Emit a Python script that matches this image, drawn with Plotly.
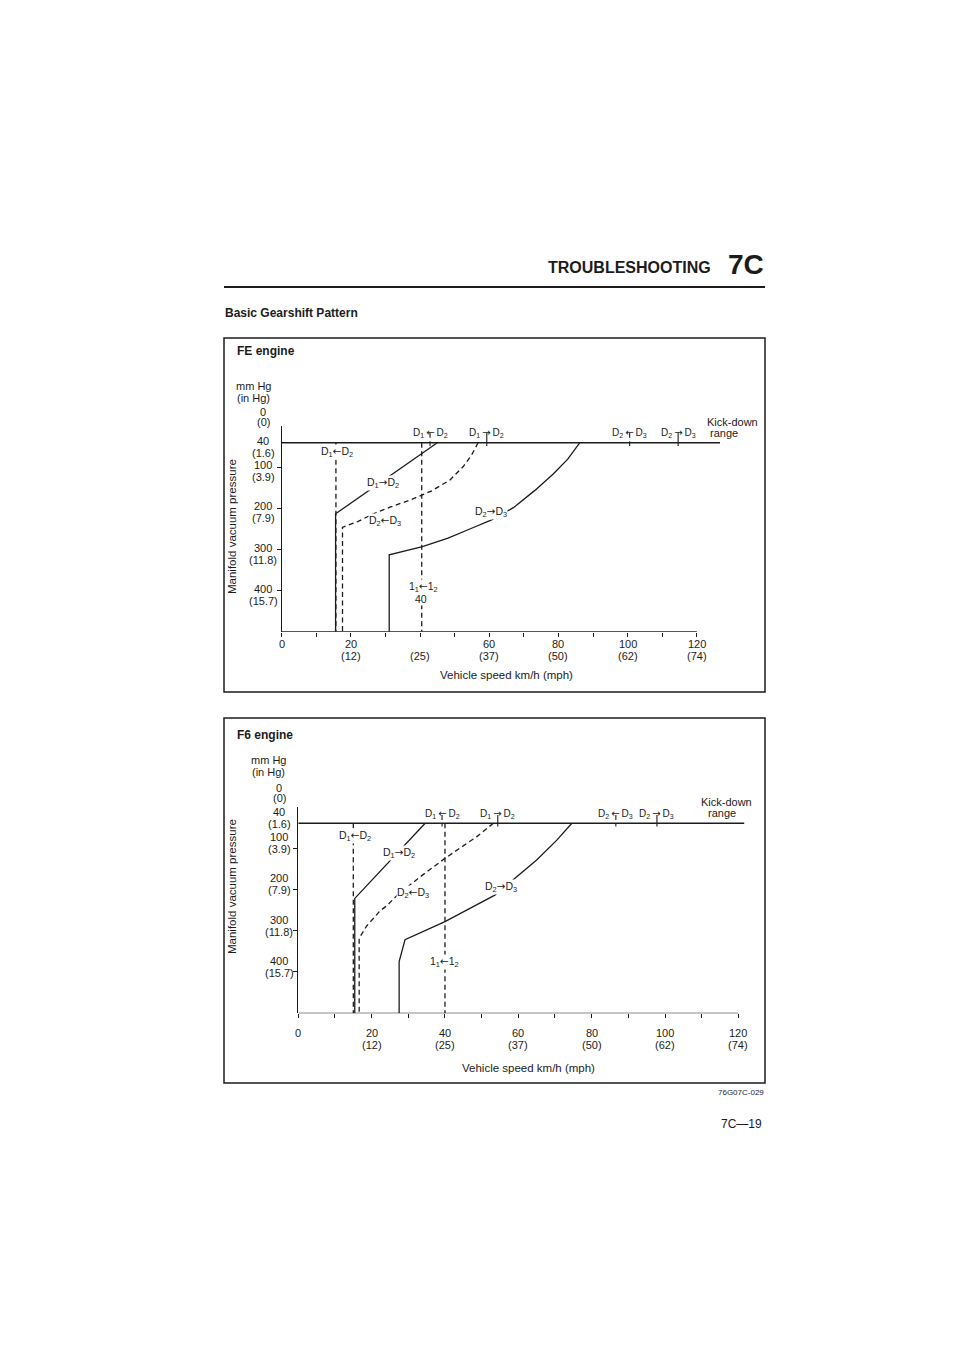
import plotly.graph_objects as go

W, H = 960, 1357
FONT = "Liberation Sans, Arial, Helvetica, sans-serif"
INK = "#1c1c1c"

AL = '<span style="font-family:DejaVu Sans">←</span>'
AR = '<span style="font-family:DejaVu Sans">→</span>'
TS = "\u2009"

# ---------------- data ----------------
x_ticks = [0, 20, 40, 60, 80, 100, 120]
x_ticks_mph = ["", "12", "25", "37", "50", "62", "74"]
y_ticks = [0, 40, 100, 200, 300, 400]
y_ticks_inhg = ["0", "1.6", "3.9", "7.9", "11.8", "15.7"]

kd_labels = ["D<sub>1</sub>" + TS + AL + TS + "D<sub>2</sub>", "D<sub>1</sub>" + TS + AR + TS + "D<sub>2</sub>",
             "D<sub>2</sub>" + TS + AL + TS + "D<sub>3</sub>", "D<sub>2</sub>" + TS + AR + TS + "D<sub>3</sub>"]
kd_is_down = [True, False, True, False]

# FE engine (x: km/h, y: mmHg)
fe_kick_x = [0, 126.7]
fe_kick_y = [40, 40]
fe_d1d2_dn_x = [15.7, 15.7]
fe_d1d2_dn_y = [40, 500]
fe_d1d2_up_x = [45.0, 15.6, 15.6]
fe_d1d2_up_y = [40, 213, 500]
fe_d2d3_dn_x = [56.8, 54.9, 52.5, 48.6, 43.4, 37.6, 31.3, 26.5, 22.0, 17.6, 17.6]
fe_d2d3_dn_y = [40, 70, 98, 131, 157, 178, 197, 213, 232, 246, 500]
fe_d2d3_up_x = [86.2, 82.7, 78.5, 73.2, 67.0, 60.7, 54.4, 48.1, 40.7, 31.1, 31.1]
fe_d2d3_up_y = [40, 80, 116, 156, 198, 228, 250, 272, 293, 313, 500]
fe_i1i2_x = [40.5, 40.5]
fe_i1i2_y = [40, 500]
fe_kd_x = [42.9, 59.3, 100.6, 114.6]

# F6 engine
f6_kick_x = [0, 121.6]
f6_kick_y = [40, 40]
f6_d1d2_dn_x = [15.0, 15.0]
f6_d1d2_dn_y = [40, 500]
f6_d1d2_up_x = [34.6, 15.4, 15.4]
f6_d1d2_up_y = [40, 222, 500]
f6_d2d3_dn_x = [53.2, 48.6, 40.0, 33.2, 27.0, 24.1, 22.3, 18.7, 16.6, 16.6]
f6_d2d3_dn_y = [40, 73, 125, 170, 214, 240, 252, 288, 318, 500]
f6_d2d3_up_x = [74.6, 70.5, 65.0, 58.6, 53.6, 46.8, 40.0, 29.1, 27.5, 27.5]
f6_d2d3_up_y = [40, 81, 129, 177, 214, 246, 278, 322, 375, 500]
f6_i1i2_x = [40.0, 40.0]
f6_i1i2_y = [40, 500]
f6_kd_x = [39.2, 54.4, 86.6, 97.8]

# ---------------- layout helpers ----------------
def P(xpx):
    return xpx / W

def Q(ypx):
    return 1 - ypx / H

DASH = "5px,3.5px"
fig = go.Figure()

def line(xs, ys, xa, ya, dashed=False, width=1.3):
    fig.add_trace(go.Scatter(
        x=xs, y=ys, mode="lines", xaxis=xa, yaxis=ya,
        line=dict(color=INK, width=width, dash=DASH if dashed else "solid"),
        hoverinfo="skip", showlegend=False))

anns = []

def txt(t, x, y, xref="paper", yref="paper", size=11, xanchor="center", yanchor="middle",
        xshift=0, yshift=0, bg=None, angle=0, bold=False):
    if bold:
        t = "<b>" + t + "</b>"
    a = dict(text=t, x=x, y=y, xref=xref, yref=yref, showarrow=False,
             xanchor=xanchor, yanchor=yanchor, xshift=xshift, yshift=yshift,
             textangle=angle, font=dict(family=FONT, size=size, color=INK), borderpad=0)
    if bg:
        a["bgcolor"] = bg
    anns.append(a)

# chart geometry (pixels): left edge, px per km/h, x range max, top (0) and bottom (500)
FE = dict(x0=281.6, k=3.46, xmax=127, y0=426.3, y1=631.7)
F6 = dict(x0=298.3, k=3.667, xmax=122, y0=806.7, y1=1013.3)

def axis_pair(g, anchor_x, anchor_y):
    xdom = [P(g["x0"]), P(g["x0"] + g["k"] * g["xmax"])]
    ydom = [Q(g["y1"]), Q(g["y0"])]
    xa = dict(domain=xdom, range=[0, g["xmax"]], anchor=anchor_y, showgrid=False,
              zeroline=False, showline=False, ticks="outside", ticklen=4,
              tickwidth=1, tickcolor=INK, tickvals=list(range(0, 121, 10)),
              showticklabels=False, fixedrange=True)
    ya = dict(domain=ydom, range=[500, 0], anchor=anchor_x, showgrid=False, zeroline=False,
              showline=True, linecolor=INK, linewidth=1.2, ticks="outside", ticklen=4,
              tickwidth=1, tickcolor=INK, tickvals=y_ticks[2:], showticklabels=False,
              fixedrange=True)
    return xa, ya

xa1, ya1 = axis_pair(FE, "x", "y")
xa2, ya2 = axis_pair(F6, "x2", "y2")

# ---------------- FE traces ----------------
line(fe_kick_x, fe_kick_y, "x", "y")
line(fe_d1d2_dn_x, fe_d1d2_dn_y, "x", "y", dashed=True)
line(fe_d2d3_dn_x, fe_d2d3_dn_y, "x", "y", dashed=True)
line(fe_i1i2_x, fe_i1i2_y, "x", "y", dashed=True)
line(fe_d1d2_up_x, fe_d1d2_up_y, "x", "y")
line(fe_d2d3_up_x, fe_d2d3_up_y, "x", "y")
for k, dn in zip(fe_kd_x, kd_is_down):
    line([k, k], [16, 48], "x", "y", dashed=dn, width=1.1)

# ---------------- F6 traces ----------------
line(f6_kick_x, f6_kick_y, "x2", "y2")
line(f6_d1d2_dn_x, f6_d1d2_dn_y, "x2", "y2", dashed=True)
line(f6_d2d3_dn_x, f6_d2d3_dn_y, "x2", "y2", dashed=True)
line(f6_i1i2_x, f6_i1i2_y, "x2", "y2", dashed=True)
line(f6_d1d2_up_x, f6_d1d2_up_y, "x2", "y2")
line(f6_d2d3_up_x, f6_d2d3_up_y, "x2", "y2")
for k, dn in zip(f6_kd_x, kd_is_down):
    line([k, k], [20, 48], "x2", "y2", dashed=dn, width=1.1)

# ---------------- page texts ----------------
txt("TROUBLESHOOTING", P(712), Q(277), size=16, xanchor="right", yanchor="bottom", bold=True)
txt("7C", P(765), Q(281), size=28, xanchor="right", yanchor="bottom", bold=True)
txt("Basic Gearshift Pattern", P(224), Q(313), size=12, xanchor="left", bold=True)
txt("76G07C-029", P(765), Q(1092), size=8, xanchor="right")
txt("7C—19", P(763), Q(1124), size=12, xanchor="right")

shapes = [
    dict(type="line", xref="paper", yref="paper", x0=P(224), x1=P(765), y0=Q(287), y1=Q(287),
         line=dict(color=INK, width=2)),
    dict(type="rect", xref="paper", yref="paper", x0=P(224), x1=P(765), y0=Q(692), y1=Q(338),
         line=dict(color=INK, width=1.5)),
    dict(type="rect", xref="paper", yref="paper", x0=P(224), x1=P(765), y0=Q(1083), y1=Q(718),
         line=dict(color=INK, width=1.5)),
    # x axis baselines (0 .. 120 km/h)
    dict(type="line", xref="x", yref="y", x0=0, x1=120, y0=500, y1=500,
         line=dict(color=INK, width=1.2)),
    dict(type="line", xref="x2", yref="y2", x0=0, x1=120, y0=500, y1=500,
         line=dict(color=INK, width=1.2)),
]

def chart_texts(name, xr, yr, name_y, unit_x, unit_y, ylab_x, lab_dn, zero_dn, xlab_dn,
                xtitle_x, xtitle_y, ytitle_y, kd_x, kd_shift, kick_left, range_left, inner):
    txt(name, P(236), Q(name_y), size=12, xanchor="left", bold=True)
    txt("mm Hg", P(unit_x), Q(unit_y), size=11)
    txt("(in Hg)", P(unit_x), Q(unit_y + 12), size=11)
    # y tick labels (offsets in px below the tick, per line)
    for v, inch in zip(y_ticks, y_ticks_inhg):
        d1, d2 = zero_dn if v == 0 else lab_dn
        txt(str(v), P(ylab_x), v, yref=yr, yshift=-d1)
        txt("(" + inch + ")", P(ylab_x), v, yref=yr, yshift=-d2)
    # x tick labels
    for v, mph in zip(x_ticks, x_ticks_mph):
        if v == 0:
            txt("0", v, 500, xref=xr, yref=yr, yshift=-xlab_dn[0])
            continue
        if not (name.startswith("FE") and v == 40):
            txt(str(v), v, 500, xref=xr, yref=yr, yshift=-xlab_dn[0])
        txt("(" + mph + ")", v, 500, xref=xr, yref=yr, yshift=-xlab_dn[1])
    txt("Vehicle speed km/h (mph)", P(xtitle_x), Q(xtitle_y), size=11.5)
    txt("Manifold vacuum pressure", P(232), Q(ytitle_y), size=11.5, angle=-90)
    # kick-down labels
    for k, lab in zip(kd_x, kd_labels):
        txt(lab, k, 40, xref=xr, yref=yr, size=10, yanchor="bottom", yshift=kd_shift)
    txt("Kick-down", kick_left, 40, xref=xr, yref=yr, size=11, xanchor="left", yshift=21)
    txt("range", range_left, 40, xref=xr, yref=yr, size=11, xanchor="left", yshift=10)
    for t, x, y in inner:
        txt(t, x, y, xref=xr, yref=yr, size=10.5, bg="white")

chart_texts("FE engine", "x", "y", 351, 253, 386, 263, (-2, 10), (-14, -4), (12, 24),
            506, 675, 527, fe_kd_x, 3, 122.6, 123.5,
            [("D<sub>1</sub>" + AL + "D<sub>2</sub>", 16.1, 62),
             ("D<sub>1</sub>" + AR + "D<sub>2</sub>", 29.4, 137),
             ("D<sub>2</sub>" + AL + "D<sub>3</sub>", 29.9, 230),
             ("D<sub>2</sub>" + AR + "D<sub>3</sub>", 60.5, 208),
             ("1<sub>1</sub>" + AL + "1<sub>2</sub>", 40.9, 390),
             ("40", 40.4, 420)])

chart_texts("F6 engine", "x2", "y2", 735, 268, 760, 279, (-11, 1), (-19, -9), (20, 32),
            528, 1068, 887, f6_kd_x, 2, 109.6, 111.5,
            [("D<sub>1</sub>" + AL + "D<sub>2</sub>", 15.5, 72),
             ("D<sub>1</sub>" + AR + "D<sub>2</sub>", 27.5, 113),
             ("D<sub>2</sub>" + AL + "D<sub>3</sub>", 31.4, 210),
             ("D<sub>2</sub>" + AR + "D<sub>3</sub>", 55.2, 194),
             ("1<sub>1</sub>" + AL + "1<sub>2</sub>", 40.0, 377)])

fig.update_layout(
    width=W, height=H, margin=dict(l=0, r=0, t=0, b=0),
    paper_bgcolor="white", plot_bgcolor="rgba(0,0,0,0)",
    xaxis=xa1, yaxis=ya1, xaxis2=xa2, yaxis2=ya2,
    annotations=anns, shapes=shapes, showlegend=False,
    font=dict(family=FONT, color=INK),
)

fig.write_html("out.html", config={"displayModeBar": False},
               post_script="document.body.style.margin='0';document.body.style.overflow='hidden';")
